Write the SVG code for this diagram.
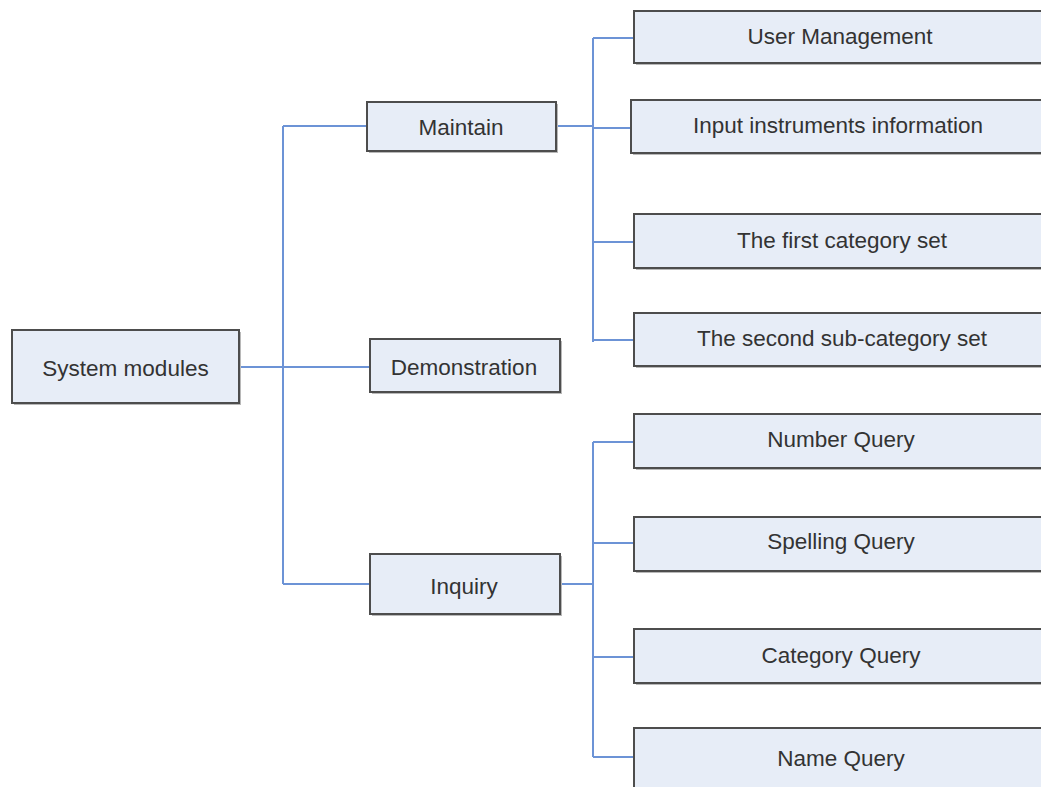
<svg xmlns="http://www.w3.org/2000/svg" width="1041" height="787" viewBox="0 0 1041 787">
<style>
.box rect.s{fill:#b8b8b8;stroke:none}
.box rect.b{fill:#e7edf7;stroke:#4d4d4d;stroke-width:2}
.box text{font-family:"Liberation Sans",Arial,sans-serif;font-size:22.5px;fill:#333;text-anchor:middle}
.conn path{fill:none;stroke:#6c93d6;stroke-width:2}
</style>
<rect width="1041" height="787" fill="#fff"/>
<g class="conn">
<path d="M239 367H370"/>
<path d="M283 126V584"/>
<path d="M283 126H367"/>
<path d="M283 584H370"/>
<path d="M556 126H593"/>
<path d="M593 38V342"/>
<path d="M593 38H634M593 128H631M593 242H634M593 340H634"/>
<path d="M560 584H593"/>
<path d="M593 442V757"/>
<path d="M593 442H634M593 543H634M593 657H634M593 757H634"/>
</g>
<g id="n-root" class="box"><rect class="s" x="14" y="332" width="227" height="73"/><rect class="b" x="12" y="330" width="227" height="73"/><text x="125.5" y="376">System modules</text></g>
<g id="n-maintain" class="box"><rect class="s" x="369" y="104" width="189" height="49"/><rect class="b" x="367" y="102" width="189" height="49"/><text x="461" y="135">Maintain</text></g>
<g id="n-demo" class="box"><rect class="s" x="372" y="341" width="190" height="53"/><rect class="b" x="370" y="339" width="190" height="53"/><text x="464" y="375">Demonstration</text></g>
<g id="n-inquiry" class="box"><rect class="s" x="372" y="556" width="190" height="60"/><rect class="b" x="370" y="554" width="190" height="60"/><text x="464" y="594">Inquiry</text></g>
<g id="n-user" class="box"><rect class="s" x="636" y="13" width="420" height="52"/><rect class="b" x="634" y="11" width="420" height="52"/><text x="840" y="44">User Management</text></g>
<g id="n-input" class="box"><rect class="s" x="633" y="102" width="420" height="53"/><rect class="b" x="631" y="100" width="420" height="53"/><text x="838" y="133">Input instruments information</text></g>
<g id="n-first" class="box"><rect class="s" x="636" y="216" width="420" height="54"/><rect class="b" x="634" y="214" width="420" height="54"/><text x="842" y="248">The first category set</text></g>
<g id="n-second" class="box"><rect class="s" x="636" y="315" width="420" height="53"/><rect class="b" x="634" y="313" width="420" height="53"/><text x="842" y="346">The second sub-category set</text></g>
<g id="n-number" class="box"><rect class="s" x="636" y="416" width="420" height="54"/><rect class="b" x="634" y="414" width="420" height="54"/><text x="841" y="447">Number Query</text></g>
<g id="n-spelling" class="box"><rect class="s" x="636" y="519" width="420" height="54"/><rect class="b" x="634" y="517" width="420" height="54"/><text x="841" y="549">Spelling Query</text></g>
<g id="n-category" class="box"><rect class="s" x="636" y="631" width="420" height="54"/><rect class="b" x="634" y="629" width="420" height="54"/><text x="841" y="663">Category Query</text></g>
<g id="n-name" class="box"><rect class="s" x="636" y="730" width="420" height="60"/><rect class="b" x="634" y="728" width="420" height="60"/><text x="841" y="766">Name Query</text></g>
</svg>
